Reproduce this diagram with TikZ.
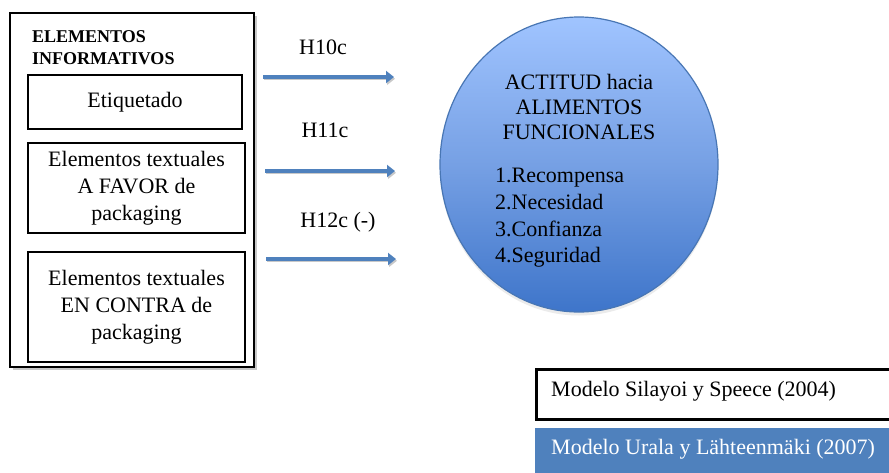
\documentclass[tikz,border=0pt]{standalone}
\usepackage{fontspec}
\setmainfont{Liberation Serif}
\usetikzlibrary{arrows.meta,shapes.geometric}

\definecolor{arrowblue}{RGB}{79,129,189}
\definecolor{ovaltop}{RGB}{160,196,255}
\definecolor{ovalmid}{RGB}{118,160,228}
\definecolor{ovalbot}{RGB}{62,117,202}
\definecolor{ovalline}{RGB}{72,118,180}
\definecolor{modelblue}{RGB}{79,129,189}
\definecolor{shadowgrey}{RGB}{200,200,200}

\tikzset{
  boxtext/.style={font=\fontsize{22}{27}\selectfont, align=center},
  itembox/.style={draw=black, line width=1.5pt, rectangle, inner sep=0pt, boxtext},
  hyparrow/.style={draw=arrowblue, line width=3.6pt,
    -{Triangle[length=8pt,width=12pt]},
    preaction={draw=shadowgrey, line width=3pt, transform canvas={xshift=1pt,yshift=-1.8pt}}},
  hyplabel/.style={font=\fontsize{22}{26}\selectfont, inner sep=0pt},
  legendtext/.style={anchor=west, inner sep=0pt, font=\fontsize{22}{26}\selectfont},
}

\begin{document}
\begin{tikzpicture}[x=1pt,y=-1pt]
  \clip (0,0) rectangle (889,472);
  \fill[white] (0,0) rectangle (889,472);

  % group of informative elements, with its shadow
  \fill[shadowgrey] (12.5,15.5) rectangle (256.5,369.5);
  \node[draw=black, line width=2pt, rectangle, fill=white, minimum width=244pt, minimum height=354pt]
    (group) at (132,190) {};
  \node[anchor=west, align=left, inner sep=0pt, font=\bfseries\fontsize{18}{22}\selectfont] (title) at (32,48)
    {ELEMENTOS\\INFORMATIVOS};
  \node[itembox, minimum width=214pt, minimum height=54pt] (etiq) at (135,102) {Etiquetado};
  \node[itembox, minimum width=217pt, minimum height=90pt] (favor) at (136.5,188)
    {Elementos textuales\\A FAVOR de\\packaging};
  \node[itembox, minimum width=217pt, minimum height=110pt] (contra) at (136.5,307)
    {Elementos textuales\\EN CONTRA de\\packaging};

  % attitude towards functional foods
  \fill[black!8] (579,167.5) ellipse [x radius=139pt, y radius=148pt];
  \node[ellipse, draw=ovalline, line width=1.2pt, minimum width=278pt, minimum height=295pt,
        top color=ovaltop, bottom color=ovalbot, middle color=ovalmid] (actitud) at (579,164.5) {};
  \node[boxtext, font=\fontsize{22}{25}\selectfont, inner sep=0pt] (acthead) at (579,107)
    {ACTITUD hacia\\ALIMENTOS\\FUNCIONALES};
  \node[anchor=west, align=left, inner sep=0pt, font=\fontsize{22}{26.7}\selectfont] (actlist) at (495,218)
    {1.Recompensa\\2.Necesidad\\3.Confianza\\4.Seguridad};

  % hypotheses
  \coordinate (h1s) at (263,77);  \coordinate (h1e) at (394,77);
  \coordinate (h2s) at (265,171); \coordinate (h2e) at (395,171);
  \coordinate (h3s) at (266,259); \coordinate (h3e) at (396,259);
  \draw[hyparrow] (h1s) -- (h1e);
  \draw[hyparrow] (h2s) -- (h2e);
  \draw[hyparrow] (h3s) -- (h3e);
  \node[hyplabel] (l1) at (323,47) {H10c};
  \node[hyplabel] (l2) at (325,130) {H11c};
  \node[hyplabel] (l3) at (338,222) {H12c (-)};

  % legend
  \node[draw=black, line width=3pt, fill=white, minimum width=380pt, minimum height=50pt, anchor=north west,
        inner sep=0pt] (silayoi) at (535,368) {};
  \node[legendtext] (silayoitxt) at (551,391) {Modelo Silayoi y Speece (2004)};
  \node[fill=modelblue, minimum width=380pt, minimum height=60pt, anchor=north west, inner sep=0pt]
    (urala) at (535,428) {};
  \node[legendtext, text=white] (uralatxt) at (551,449) {Modelo Urala y Lähteenmäki (2007)};
\end{tikzpicture}
\end{document}
